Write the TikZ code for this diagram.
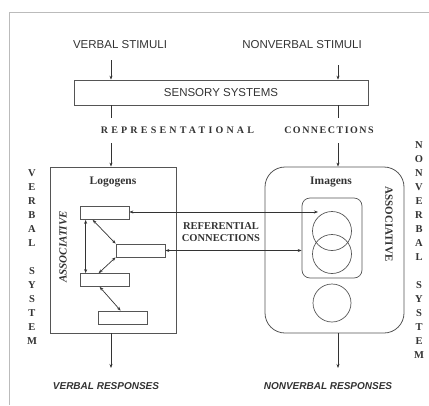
\documentclass[tikz,border=0pt]{standalone}
\usepackage{fontspec}
\setmainfont{Liberation Serif}
\newfontfamily\arial{Liberation Sans}
\usetikzlibrary{arrows.meta}
\definecolor{ink}{HTML}{333333}
\definecolor{edge}{HTML}{555555}
\definecolor{framec}{HTML}{BBBBBB}
\begin{document}
\begin{tikzpicture}[x=1pt,y=-1pt,
  every node/.style={text=ink, inner sep=0pt},
  tip/.tip={Stealth[length=4pt,width=3pt]},
  arr/.style={draw=ink, line width=0.7pt, -tip},
  darr/.style={draw=ink, line width=0.7pt, tip-tip},
  plainline/.style={draw=ink, line width=0.7pt},
  sans/.style={font=\arial\fontsize{11.5}{13}\selectfont},
  resp/.style={font=\arial\bfseries\itshape\fontsize{10}{12}\selectfont},
  title/.style={font=\bfseries\fontsize{11.5}{13}\selectfont},
  refl/.style={font=\bfseries\fontsize{10.5}{12}\selectfont, align=center},
  assoc/.style={font=\bfseries\fontsize{11}{13}\selectfont},
  vert/.style={font=\bfseries\fontsize{10.5}{14}\selectfont, align=center},
  wbox/.style={draw=edge, line width=0.7pt, minimum width=49pt, minimum height=13pt},
  bigbox/.style={draw=edge, line width=0.8pt, minimum width=#1, minimum height=166pt},
]
\useasboundingbox (0,0) rectangle (429,405);
% frame
\draw[framec, line width=0.6pt] (429,12) -- (9,12) -- (9,405);

% stimuli
\node[sans] (vs) at (120,45) {VERBAL STIMULI};
\node[sans] (nvs) at (302,45) {NONVERBAL STIMULI};
\node[draw=edge, line width=0.7pt, minimum width=294pt, minimum height=25pt, sans] (sens) at (221,92.5) {SENSORY SYSTEMS};
\coordinate (vx) at (111,60);
\coordinate (nx) at (338,65);
\draw[arr] (vx) -- (vx |- sens.north);
\draw[arr] (nx) -- (nx |- sens.north);
\coordinate (vl) at (111,118);
\coordinate (nl) at (338,118);
\draw[plainline] (sens.south -| vl) -- (vl);
\draw[plainline] (sens.south -| nl) -- (nl);

\node[font=\bfseries\fontsize{10}{12}\selectfont\addfontfeature{LetterSpace=32}] (rep) at (177.5,130) {REPRESENTATIONAL};
\node[font=\bfseries\fontsize{10}{12}\selectfont\addfontfeature{LetterSpace=15}] (con) at (329,130) {CONNECTIONS};

% systems boxes
\node[bigbox=126pt] (vbox) at (113,250) {};
\node[bigbox=139pt, rounded corners=20pt] (nbox) at (334.5,250) {};
\coordinate (va) at (111,143);
\coordinate (na) at (338,143);
\draw[arr] (va) -- (va |- vbox.north);
\draw[arr] (na) -- (na |- nbox.north);

\node[title] (logo) at (113,182) {Logogens};
\node[title] (imag) at (331,182) {Imagens};

% logogen boxes
\node[wbox] (b1) at (104.5,213) {};
\node[wbox] (b2) at (140.5,250.5) {};
\node[wbox] (b3) at (104.5,280) {};
\node[wbox] (b4) at (122.5,317.5) {};
\draw[darr] ([xshift=6pt]b1.south west) -- ([xshift=6pt]b3.north west);
\draw[darr] ([xshift=13pt]b1.south west) -- (b2.north west);
\draw[darr] (b2.south west) -- ([xshift=19pt]b3.north west);
\draw[darr] ([xshift=20pt]b3.south west) -- ([xshift=23pt]b4.north west);

% imagens
\node[draw=edge, line width=0.7pt, rounded corners=8pt, minimum width=60pt, minimum height=80pt] (inner) at (332,238) {};
\node[draw=edge, line width=0.7pt, circle, minimum size=39pt] (c1) at (332,231) {};
\node[draw=edge, line width=0.7pt, circle, minimum size=39pt] (c2) at (332,254) {};
\node[draw=edge, line width=0.7pt, circle, minimum size=38pt] (c3) at (332,303) {};

% referential connections
\coordinate (rt) at (318,212);
\draw[darr] (b1.east |- rt) -- (rt);
\draw[darr] (b2.east) -- (b2.east -| inner.west);
\node[refl] (ref) at (221,232) {REFERENTIAL\\CONNECTIONS};

% associative labels
\node[assoc, rotate=90] (asl) at (63,247) {\itshape ASSOCIATIVE};
\node[assoc, rotate=-90] (asr) at (389,224) {ASSOCIATIVE};

% vertical system labels
\node[vert] (vsys) at (32,257) {V\\E\\R\\B\\A\\L\\[14pt]S\\Y\\S\\T\\E\\M};
\node[vert] (nsys) at (419,250) {N\\O\\N\\V\\E\\R\\B\\A\\L\\[14pt]S\\Y\\S\\T\\E\\M};

% responses
\coordinate (vr) at (111,368);
\coordinate (nr) at (338,368);
\draw[arr] (vbox.south -| vr) -- (vr);
\draw[arr] (nbox.south -| nr) -- (nr);
\node[resp] (vresp) at (106,386) {VERBAL RESPONSES};
\node[resp] (nresp) at (328,386) {NONVERBAL RESPONSES};
\end{tikzpicture}
\end{document}
